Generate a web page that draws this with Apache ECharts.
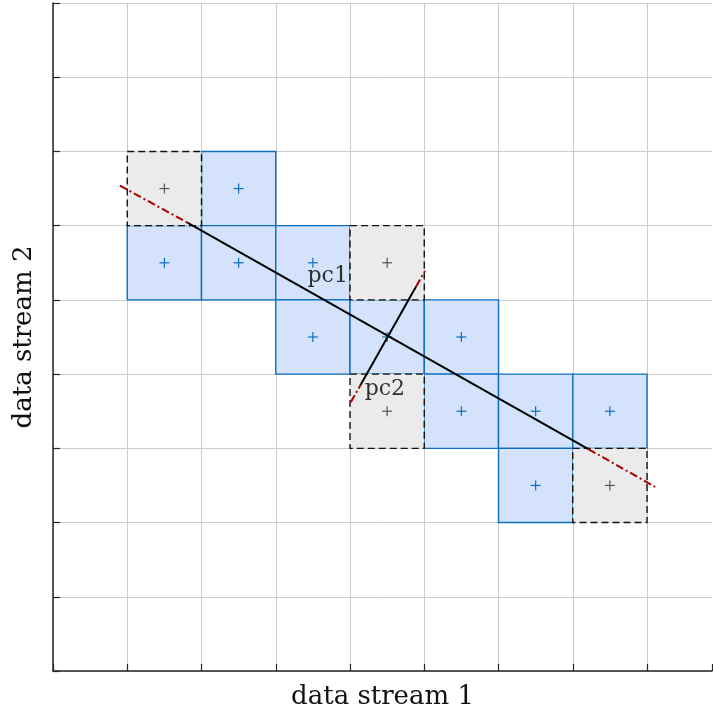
<!DOCTYPE html>
<html>
<head>
<meta charset="utf-8">
<script src="https://cdn.jsdelivr.net/npm/echarts@6/dist/echarts.min.js"></script>
<style>
  html, body { margin: 0; padding: 0; background: #fff; }
  #chart { width: 713px; height: 715px; }
</style>
</head>
<body>
<div id="chart"></div>
<script>
// cells given by lower-left corner [x, y]
const blueCells = [[2, 6], [1, 5], [2, 5], [3, 5], [3, 4], [4, 4], [5, 4], [5, 3], [6, 3], [7, 3], [6, 2]];
const grayCells = [[1, 6], [4, 5], [4, 3], [7, 2]];

// principal component lines: dash-dot ends and solid middle part
const pc1Ends = [[0.90, 6.54], [1.81, 6.04], null, [7.21, 2.99], [8.11, 2.48]];
const pc1Solid = [[1.81, 6.04], [7.21, 2.99]];
const pc2Ends = [[4.01, 3.62], [4.14, 3.85], null, [4.89, 5.18], [5.01, 5.39]];
const pc2Solid = [[4.14, 3.85], [4.89, 5.18]];

const labels = [
  { name: "pc1", value: [3.70, 5.32] },
  { name: "pc2", value: [4.47, 3.79] },
];

const SERIF = "DejaVu Serif";
const chart = echarts.init(document.getElementById("chart"));

function cellRenderer(fill, stroke, dash, plusColor) {
  return function (params, api) {
    const x = api.value(0), y = api.value(1);
    const p0 = api.coord([x, y + 1]);
    const p1 = api.coord([x + 1, y]);
    const c = api.coord([x + 0.5, y + 0.5]);
    const s = 5;
    return {
      type: "group",
      children: [
        {
          type: "rect",
          shape: { x: p0[0], y: p0[1], width: p1[0] - p0[0], height: p1[1] - p0[1] },
          style: { fill: fill, stroke: stroke, lineWidth: 1.4, lineDash: dash },
        },
        {
          type: "line",
          shape: { x1: c[0] - s, y1: c[1], x2: c[0] + s, y2: c[1] },
          style: { stroke: plusColor, lineWidth: 1.2 },
        },
        {
          type: "line",
          shape: { x1: c[0], y1: c[1] - s, x2: c[0], y2: c[1] + s },
          style: { stroke: plusColor, lineWidth: 1.2 },
        },
      ],
    };
  };
}

const axisCommon = {
  type: "value",
  interval: 1,
  min: 0,
  axisLabel: { show: false },
  axisLine: { show: true, lineStyle: { color: "#262626", width: 1.5 } },
  axisTick: { show: true, inside: true, length: 7, lineStyle: { color: "#262626", width: 1.2 } },
  splitLine: { show: true, lineStyle: { color: "#cccccc", width: 1 } },
  nameLocation: "middle",
  nameTextStyle: { fontFamily: SERIF, fontSize: 26, color: "#111" },
};

const option = {
  animation: false,
  grid: { left: 53, right: 1, top: 3, bottom: 44 },
  xAxis: Object.assign({}, axisCommon, {
    max: 8.875,
    name: "data stream 1",
    nameGap: 13,
    splitLine: { show: true, showMaxLine: false, lineStyle: { color: "#cccccc", width: 1 } },
  }),
  yAxis: Object.assign({}, axisCommon, { max: 9, name: "data stream 2", nameGap: 16 }),
  series: [
    {
      type: "custom",
      data: blueCells,
      renderItem: cellRenderer("#d4e3fb", "#0b6ec0", null, "#0b6ec0"),
      z: 2,
    },
    {
      type: "custom",
      data: grayCells,
      renderItem: cellRenderer("#ebebeb", "#111", [7, 4], "#555"),
      z: 3,
    },
    {
      type: "line",
      data: pc1Ends,
      symbol: "none",
      connectNulls: false,
      lineStyle: { color: "#a80000", width: 2, type: [8, 3, 2, 3] },
      z: 4,
    },
    {
      type: "line",
      data: pc2Ends,
      symbol: "none",
      connectNulls: false,
      lineStyle: { color: "#a80000", width: 2, type: [8, 3, 2, 3] },
      z: 4,
    },
    {
      type: "line",
      data: pc1Solid,
      symbol: "none",
      lineStyle: { color: "#000", width: 2 },
      z: 5,
    },
    {
      type: "line",
      data: pc2Solid,
      symbol: "none",
      lineStyle: { color: "#000", width: 2 },
      z: 5,
    },
    {
      type: "scatter",
      data: labels,
      symbolSize: 0,
      label: {
        show: true,
        position: "inside",
        formatter: "{b}",
        fontFamily: SERIF,
        fontSize: 22,
        color: "#000",
      },
      z: 6,
    },
  ],
};

chart.setOption(option);
</script>
</body>
</html>
